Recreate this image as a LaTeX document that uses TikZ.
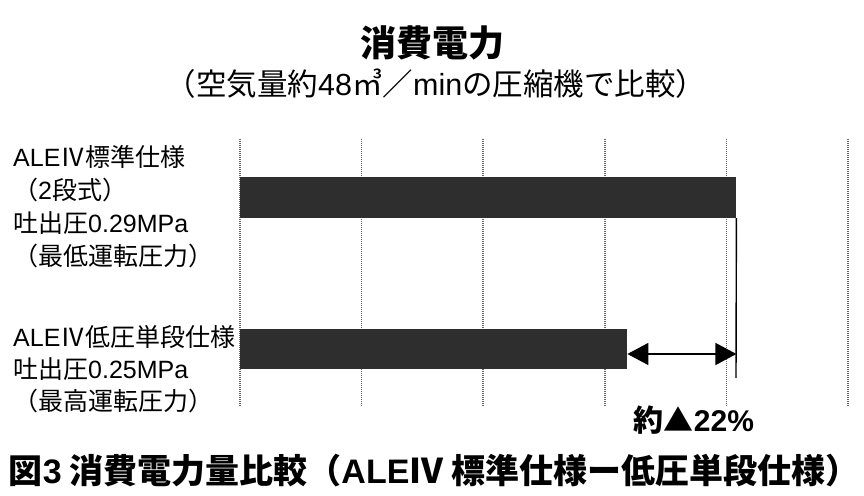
\documentclass[tikz,border=0pt]{standalone}
\usepackage{fontspec}
\setmainfont{Noto Sans CJK JP}
\newfontfamily\lat{Liberation Sans}
\newcommand{\la}[1]{{\lat #1}}
\usetikzlibrary{arrows.meta,positioning}

\begin{document}
\begin{tikzpicture}[x=1pt,y=1pt,
        bar/.style={draw=none, fill=black!82, inner sep=0pt, anchor=west, minimum height=41pt},
        grid/.style={draw=black!60, dash pattern=on 1pt off 1pt, line width=1.6pt},
        lbl/.style={anchor=north west, inner sep=0pt, align=left, font=\fontsize{25}{33}\selectfont},
        dim/.style={{Triangle[length=21pt,width=22pt]}-{Triangle[length=21pt,width=22pt]}, line width=1.6pt}]
    \useasboundingbox (0,0) rectangle (864,495);
    % titles
    \node (title) at (432,452) {\fontsize{36}{36}\selectfont\bfseries 消費電力};
    \node (sub) at (436,411) {\fontsize{30.5}{30.5}\selectfont （空気量約\la{48}㎥／\la{min}の圧縮機で比較）};
    % grid
    \foreach \i in {0,...,5}
        \draw[grid] (240+121.6*\i,356) -- (240+121.6*\i,88);
    % bars
    \node[bar, minimum width=496pt] (std) at (240,297.5) {};
    \node[bar, minimum width=387pt, minimum height=40pt] (low) at (240,146) {};
    % labels
    \node[lbl] (stdlbl) at (13,350) {\la{ALE}Ⅳ標準仕様\\（\la{2}段式）\\吐出圧\la{0.29MPa}\\（最低運転圧力）};
    \node[lbl, font=\fontsize{25}{32}\selectfont] (lowlbl) at (13,170) {\la{ALE}Ⅳ低圧単段仕様\\吐出圧\la{0.25MPa}\\（最高運転圧力）};
    % difference
    \coordinate (vend) at (736,117);
    \draw[line width=1.4pt] (std.south east) -- (vend);
    \draw[dim] ([yshift=-5pt]low.east) -- ([yshift=-5pt]std.east |- low.east);
    \node (pct) at (694,75) {\fontsize{30}{30}\selectfont\bfseries 約▲\la{22\%}};
    % caption
    \node (cap) at (434,24) {\fontsize{34}{34}\selectfont\bfseries 図\la{3} 消費電力量比較（\la{ALE}Ⅳ 標準仕様ー低圧単段仕様）};
\end{tikzpicture}
\end{document}
